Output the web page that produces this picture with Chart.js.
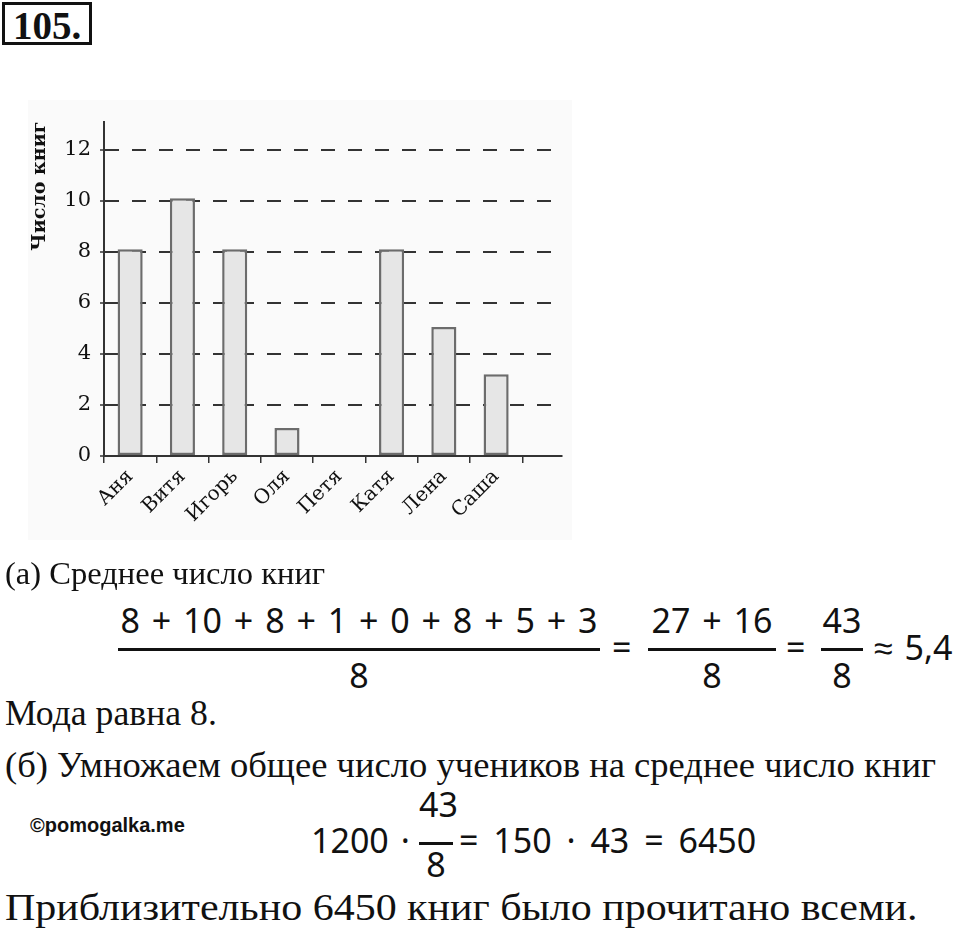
<!DOCTYPE html>
<html>
<head>
<meta charset="utf-8">
<script src="https://cdn.jsdelivr.net/npm/chart.js@4.4.0/dist/chart.umd.min.js"></script>
<style>
  body { margin: 0; background: #fff; width: 960px; height: 929px; position: relative; overflow: hidden; color: #111; }
  .abs { position: absolute; white-space: nowrap; line-height: 1; }
  .txt { font-family: 'Liberation Serif', serif; transform-origin: 0 0; }
  .m { font-family: 'Noto Sans', sans-serif; font-size: 34px; word-spacing: 3px; }
  .c { text-align: center; }
  .bar { position: absolute; height: 2.5px; background: #111; }
  #num { left: 2px; top: 2px; width: 84px; height: 37px; border: 3px solid #111;
         font: bold 39px 'Liberation Serif', serif; text-align: center; line-height: 41px; }
  #scan { position: absolute; left: 28px; top: 100px; width: 544px; height: 440px; background: #fafafa; }
  #box { position: absolute; left: 0; top: 100px; width: 600px; height: 460px; }
  #wm { font: bold 20px 'Liberation Sans', Arial, sans-serif; }
</style>
</head>
<body>
<div id="num" class="abs">105.</div>
<div id="scan"></div>
<div id="box"><canvas id="booksChart"></canvas></div>

<div class="abs txt" style="left:5px; top:558px; font-size:31px; transform:scaleX(1.05);">(а) Среднее число книг</div>

<!-- (8+10+...)/8 = (27+16)/8 = 43/8 ≈ 5,4 -->
<div class="abs m c" style="left:118px; width:482px; top:603px;">8 + 10 + 8 + 1 + 0 + 8 + 5 + 3</div>
<div class="bar" style="left:118px; width:482px; top:648px;"></div>
<div class="abs m c" style="left:118px; width:482px; top:658px;">8</div>
<div class="abs m" style="left:612px; top:630px;">=</div>
<div class="abs m c" style="left:648px; width:128px; top:603px;">27 + 16</div>
<div class="bar" style="left:648px; width:128px; top:648px;"></div>
<div class="abs m c" style="left:648px; width:128px; top:658px;">8</div>
<div class="abs m" style="left:786px; top:630px;">=</div>
<div class="abs m c" style="left:821px; width:42px; top:603px;">43</div>
<div class="bar" style="left:821px; width:42px; top:648px;"></div>
<div class="abs m c" style="left:821px; width:42px; top:658px;">8</div>
<div class="abs m" style="left:874px; top:630px;">≈ 5,4</div>

<div class="abs txt" style="left:5px; top:696px; font-size:35px; transform:scaleX(1.02);">Мода равна 8.</div>
<div class="abs txt" style="left:5px; top:748px; font-size:35px; transform:scaleX(1.045);">(б) Умножаем общее число учеников на среднее число книг</div>

<div id="wm" class="abs" style="left:30px; top:814px;">©pomogalka.me</div>

<!-- 1200 · 43/8 = 150 · 43 = 6450 -->
<div class="abs m" style="left:311px; top:823px;">1200 ·</div>
<div class="abs m c" style="left:419px; width:34px; top:787px;">43</div>
<div class="bar" style="left:419px; width:34px; top:842px;"></div>
<div class="abs m c" style="left:419px; width:34px; top:847px;">8</div>
<div class="abs m" style="left:459px; top:823px; word-spacing:6px;">= 150 · 43 = 6450</div>

<div class="abs txt" style="left:5px; top:888px; font-size:38px; transform:scaleX(1.105);">Приблизительно 6450 книг было прочитано всеми.</div>

<script>
/* ---------- DATA ---------- */
const names  = ['Аня', 'Витя', 'Игорь', 'Оля', 'Петя', 'Катя', 'Лена', 'Саша'];
const books  = [8.1, 10.1, 8.1, 1.1, 0, 8.1, 5.05, 3.2];
const yTicks = [0, 2, 4, 6, 8, 10, 12];
const yTitle = 'Число книг';

/* ---------- CHART ---------- */
const ink   = '#333';
const serif = 'DejaVu Serif';

const chart = new Chart(document.getElementById('booksChart'), {
    type: 'bar',
    data: {
        labels: names,
        datasets: [{
            data: books,
            backgroundColor: '#e6e6e6',
            borderColor: '#6c6c6c',
            borderWidth: 2.5,
            borderSkipped: false,
            barPercentage: 0.48,
            categoryPercentage: 1,
        }]
    },
    options: {
        responsive: true,
        maintainAspectRatio: false,
        animation: false,
        layout: { padding: { top: 20, right: 38, left: 0, bottom: 0 } },
        plugins: { legend: { display: false }, tooltip: { enabled: false } },
        scales: {
            x: {
                // axis runs a bit past the last category, like the print
                afterBuildTicks: s => { s._valueRange = names.length + 0.76; },
                afterFit: s => { s.height = 104; },
                border: { color: ink, width: 2 },
                grid: { drawOnChartArea: false, drawTicks: true, tickLength: 7, color: ink, lineWidth: 1.5, offset: true },
                ticks: {
                    color: '#111', autoSkip: false, minRotation: 45, maxRotation: 45, padding: 2,
                    font: { family: serif, size: 20 }
                }
            },
            y: {
                min: 0,
                max: 13.1,
                afterBuildTicks: s => { s.ticks = yTicks.map(v => ({ value: v })); },
                afterFit: s => { s.width = 104; },
                border: { color: ink, width: 2, dash: [14, 13] },
                grid: {
                    color: c => c.tick && c.tick.value === 0 ? 'rgba(0,0,0,0)' : ink,
                    lineWidth: 2,
                    tickLength: 4,
                    tickColor: ink,
                    tickWidth: 1.5,
                    tickBorderDash: []
                },
                ticks: { color: '#111', padding: 9, font: { family: serif, size: 21 } },
                title: {
                    display: true, text: yTitle, align: 'end', color: '#111',
                    font: { family: serif, size: 19, weight: 'bold' },
                    padding: { top: 29, bottom: 0 }
                }
            }
        }
    }
});
</script>
</body>
</html>
